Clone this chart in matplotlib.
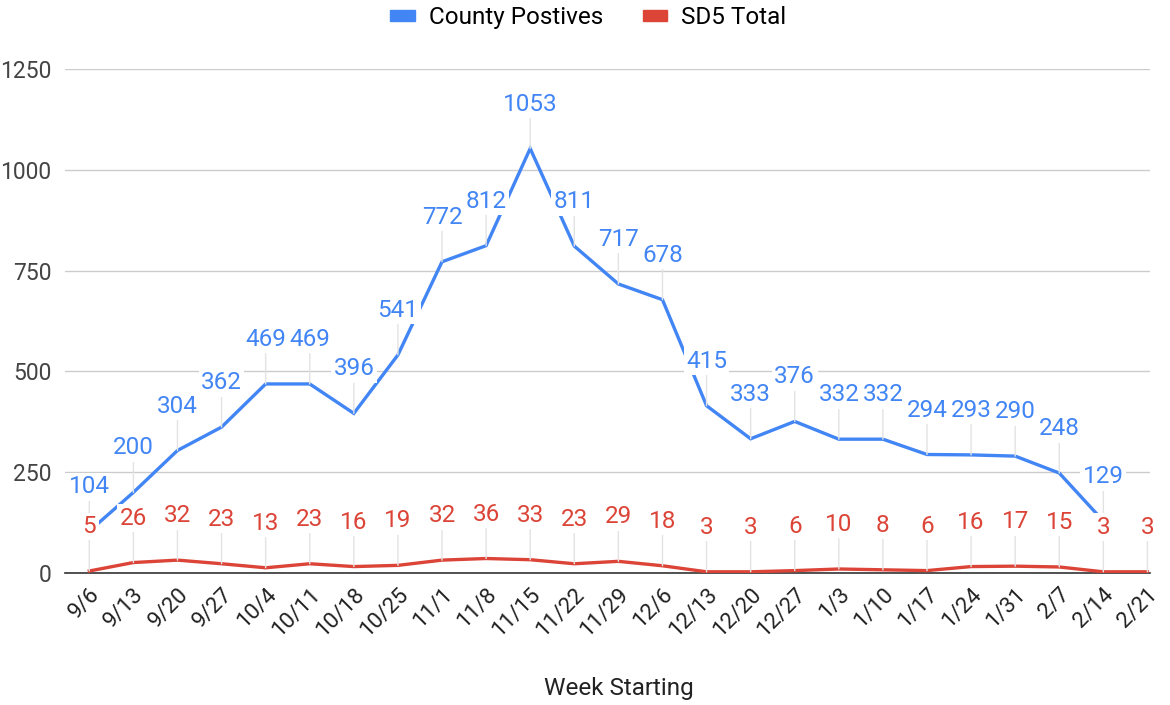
import matplotlib.pyplot as plt
from matplotlib.patches import Patch
import numpy as np

plt.rcParams['font.family'] = ['Roboto', 'DejaVu Sans']

weeks = ['9/6', '9/13', '9/20', '9/27', '10/4', '10/11', '10/18', '10/25', '11/1', '11/8',
         '11/15', '11/22', '11/29', '12/6', '12/13', '12/20', '12/27', '1/3', '1/10', '1/17',
         '1/24', '1/31', '2/7', '2/14', '2/21']
county = [104, 200, 304, 362, 469, 469, 396, 541, 772, 812, 1053, 811, 717, 678, 415, 333,
          376, 332, 332, 294, 293, 290, 248, 129]
sd5 = [5, 26, 32, 23, 13, 23, 16, 19, 32, 36, 33, 23, 29, 18, 3, 3, 6, 10, 8, 6, 16, 17, 15, 3, 3]

blue = '#4285F4'
red = '#DB4437'

fig = plt.figure(figsize=(11.7, 7.05), dpi=100)
ax = fig.add_axes([0.0556, 0.1872, 0.927, 0.7148])

x_c = np.arange(len(county))
x_s = np.arange(len(sd5))
ax.plot(x_c, county, color=blue, lw=2.4, zorder=2, solid_joinstyle='miter')
ax.plot(x_s, sd5, color=red, lw=2.4, zorder=2, solid_joinstyle='miter')


def add_labels(xs, ys, color):
    for xi, yi in zip(xs, ys):
        ax.annotate(str(yi), xy=(xi, yi), xytext=(0, 32), textcoords='offset points',
                    ha='center', va='center', fontsize=17.5, color=color, zorder=4,
                    bbox=dict(boxstyle='square,pad=0.1', fc='white', ec='none'),
                    arrowprops=dict(arrowstyle='-', color='#e3e3e3', lw=1,
                                    shrinkA=0, shrinkB=0))


add_labels(x_c, county, blue)
add_labels(x_s, sd5, red)

ax.set_ylim(0, 1250)
ax.set_xlim(-0.55, 24.05)
ax.set_yticks([0, 250, 500, 750, 1000, 1250])
ax.set_xticks(x_s)
ax.set_xticklabels(weeks, rotation=45, ha='right', rotation_mode='anchor')
ax.tick_params(axis='x', length=0, pad=8, labelsize=16, colors='#222222')
ax.tick_params(axis='y', length=0, pad=10, labelsize=16.5, colors='#444444')
ax.grid(axis='y', color='#cccccc', lw=1, zorder=0)
ax.set_axisbelow(True)
for s in ['top', 'right', 'left']:
    ax.spines[s].set_visible(False)
ax.spines['bottom'].set_color('#333333')
ax.spines['bottom'].set_linewidth(1.2)
ax.spines['bottom'].set_zorder(1)

fig.text(0.529, 0.024, 'Week Starting', fontsize=17.5, color='#222222',
         ha='center', va='center')

handles = [Patch(color=blue, label='County Postives'), Patch(color=red, label='SD5 Total')]
fig.legend(handles=handles, loc='center', bbox_to_anchor=(0.503, 0.975), ncol=2,
           frameon=False, fontsize=17.5, handlelength=1.0, handleheight=0.35,
           columnspacing=1.6, handletextpad=0.6)

fig.savefig('out.png', dpi=100)
